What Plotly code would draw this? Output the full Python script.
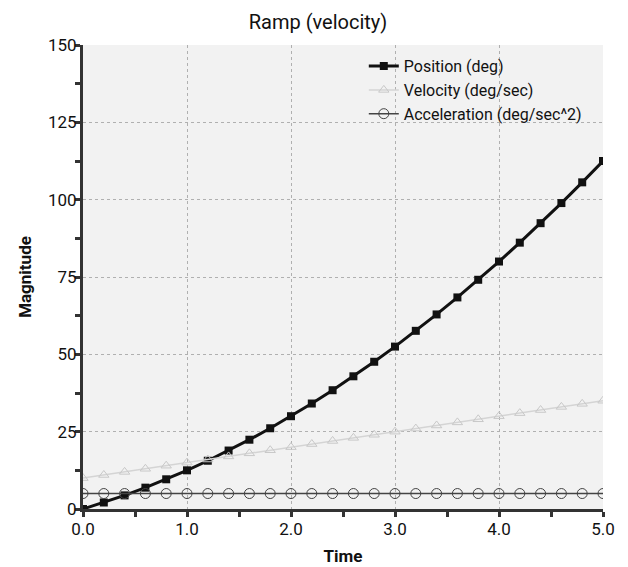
import plotly.graph_objects as go

# sample times (s)
time = [0.0, 0.2, 0.4, 0.6, 0.8, 1.0, 1.2, 1.4, 1.6, 1.8, 2.0, 2.2, 2.4,
        2.6, 2.8, 3.0, 3.2, 3.4, 3.6, 3.8, 4.0, 4.2, 4.4, 4.6, 4.8, 5.0]

position = [0.0, 2.1, 4.4, 6.9, 9.6, 12.5, 15.6, 18.9, 22.4, 26.1, 30.0,
            34.1, 38.4, 42.9, 47.6, 52.5, 57.6, 62.9, 68.4, 74.1, 80.0,
            86.1, 92.4, 98.9, 105.6, 112.5]

velocity = [10, 11, 12, 13, 14, 15, 16, 17, 18, 19, 20, 21, 22,
            23, 24, 25, 26, 27, 28, 29, 30, 31, 32, 33, 34, 35]

acceleration = [5] * 26

x_ticks = [0, 1, 2, 3, 4, 5]
x_labels = ["0.0", "1.0", "2.0", "3.0", "4.0", "5.0"]
y_ticks = [0, 25, 50, 75, 100, 125, 150]

font_family = "Roboto"

fig = go.Figure()

fig.add_trace(go.Scatter(
    x=time, y=position, name="Position (deg)",
    mode="lines+markers",
    line=dict(color="#111111", width=3),
    marker=dict(symbol="square", size=8, color="#111111")
))

fig.add_trace(go.Scatter(
    x=time, y=velocity, name="Velocity (deg/sec)",
    mode="lines+markers",
    line=dict(color="#d4d4d4", width=1.5),
    marker=dict(symbol="triangle-up-open", size=9, color="#c8c8c8",
                line=dict(width=1))
))

fig.add_trace(go.Scatter(
    x=time, y=acceleration, name="Acceleration (deg/sec^2)",
    mode="lines+markers",
    line=dict(color="#444444", width=1.5),
    marker=dict(symbol="circle-open", size=10, color="#444444",
                line=dict(width=1))
))

axis_common = dict(
    showline=True, linecolor="#333333", linewidth=3,
    ticks="outside", ticklen=5, tickwidth=3, tickcolor="#333333",
    showgrid=True, gridcolor="#b0b0b0", griddash="dot", gridwidth=1,
    zeroline=False, mirror=False, automargin=False,
    tickfont=dict(family=font_family, size=17, color="#111111"),
)

# the page body adds an 8px offset, so the figure is a little smaller
fig.update_layout(
    width=620, height=559,
    margin=dict(l=75, r=25, t=37, b=58),
    title=dict(text="Ramp (velocity)", x=0.5, xanchor="center",
               y=0.975, yanchor="middle",
               font=dict(family=font_family, size=20, color="#111111")),
    plot_bgcolor="#f2f2f2",
    paper_bgcolor="white",
    xaxis=dict(
        range=[0, 5], tickvals=x_ticks, ticktext=x_labels,
        ticklabelstandoff=-2,
        minor=dict(dtick=0.5, ticks="outside", ticklen=5, tickwidth=3,
                   tickcolor="#333333", showgrid=False),
        title=dict(text="<b>Time</b>", standoff=12,
                   font=dict(family=font_family, size=17, color="#111111")),
        **axis_common
    ),
    yaxis=dict(
        range=[0, 150], tickvals=y_ticks,
        ticklabelstandoff=-5,
        minor=dict(dtick=12.5, ticks="outside", ticklen=5, tickwidth=3,
                   tickcolor="#333333", showgrid=False),
        title=dict(text="<b>Magnitude</b>", standoff=12,
                   font=dict(family=font_family, size=17, color="#111111")),
        **axis_common
    ),
    legend=dict(
        x=0.540, y=0.991, xanchor="left", yanchor="top",
        bgcolor="rgba(0,0,0,0)", itemwidth=30,
        tracegroupgap=0,
        font=dict(family=font_family, size=16, color="#111111")
    ),
)

fig.write_html("out.html")
